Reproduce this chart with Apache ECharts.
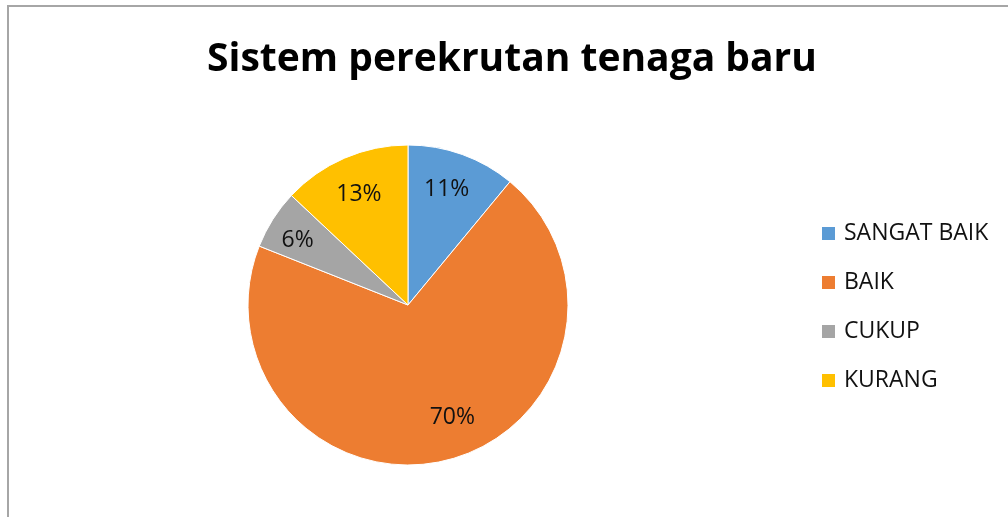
<!DOCTYPE html>
<html>
<head>
<meta charset="utf-8">
<script src="https://cdn.jsdelivr.net/npm/echarts@6/dist/echarts.min.js"></script>
<style>
  body { margin: 0; background: #fff; }
  #frame {
    position: absolute; left: 7px; top: 5px;
    width: 1020px; height: 530px;
    border: 2px solid #a6a6a6;
    box-sizing: border-box;
  }
  #chart { position: absolute; left: 0; top: 0; width: 1008px; height: 517px; }
</style>
</head>
<body>
<div id="frame"></div>
<div id="chart"></div>
<script>
  // data
  var categories = ['SANGAT BAIK', 'BAIK', 'CUKUP', 'KURANG'];
  var values = [11, 70, 6, 13];
  var colors = ['#5b9bd5', '#ed7d31', '#a5a5a5', '#ffc000'];
  // small nudges so the labels sit where the original put them
  var labelOffsets = [[-4, 3], [13, -10], [-4, 3], [1, 5]];

  var font = 'Open Sans';
  var pieData = categories.map(function (c, i) {
    return { name: c, value: values[i], itemStyle: { color: colors[i] } };
  });
  // same slices, only to put the labels further out than the middle
  var labelData = categories.map(function (c, i) {
    return { name: c, value: values[i], label: { offset: labelOffsets[i] } };
  });

  var chart = echarts.init(document.getElementById('chart'));
  chart.setOption({
    animation: false,
    title: {
      text: 'Sistem perekrutan tenaga baru',
      left: 507,
      textAlign: 'center',
      top: 35,
      textStyle: { fontFamily: font, fontSize: 39, fontWeight: 'bold', color: '#000' }
    },
    legend: {
      orient: 'vertical',
      left: 820,
      top: 222,
      padding: 0,
      icon: 'rect',
      itemWidth: 15,
      itemHeight: 15,
      itemGap: 26,
      data: categories,
      textStyle: { fontFamily: font, fontSize: 23, color: '#111', padding: [0, 0, 0, 3] }
    },
    series: [
      {
        type: 'pie',
        center: [408, 305],
        radius: 160,
        startAngle: 90,
        clockwise: true,
        label: { show: false },
        labelLine: { show: false },
        itemStyle: { borderColor: '#fff', borderWidth: 1 },
        emphasis: { disabled: true },
        data: pieData
      },
      {
        type: 'pie',
        center: [408, 305],
        radius: [86, 160],
        startAngle: 90,
        clockwise: true,
        silent: true,
        itemStyle: { color: 'transparent' },
        label: {
          show: true,
          position: 'inside',
          formatter: '{d}%',
          fontFamily: font,
          fontSize: 23,
          color: '#111'
        },
        labelLine: { show: false },
        emphasis: { disabled: true },
        data: labelData
      }
    ]
  });
</script>
</body>
</html>
